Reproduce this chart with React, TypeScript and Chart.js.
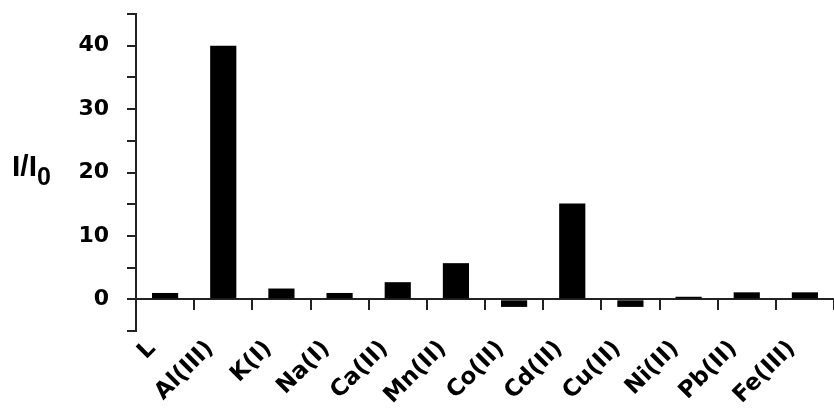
import React, { useEffect, useRef } from "react";
import { Chart, registerables } from "chart.js";

Chart.register(...registerables);

const categories = ["L", "Al(III)", "K(I)", "Na(I)", "Ca(II)", "Mn(II)", "Co(II)", "Cd(II)", "Cu(II)", "Ni(II)", "Pb(II)", "Fe(III)"];
const intensityRatio = [1.0, 40.0, 1.7, 1.0, 2.7, 5.7, -1.2, 15.1, -1.2, 0.4, 1.1, 1.1];
const yMin = -5;
const yMax = 45;
const yStep = 5;
const labelledTicks = [0, 10, 20, 30, 40];

const AXIS_COLOR = "#222";
const FONT_FAMILY = "'DejaVu Sans', 'Liberation Sans', sans-serif";

export default function App() {
  const canvasRef = useRef<HTMLCanvasElement | null>(null);

  useEffect(() => {
    const prevMargin = document.body.style.margin;
    document.body.style.margin = "0";
    const ctx = canvasRef.current;
    if (!ctx) return;
    const chart = new Chart(ctx, {
      type: "bar",
      data: {
        labels: categories,
        datasets: [
          {
            data: intensityRatio,
            backgroundColor: "#000",
            borderWidth: 0,
            categoryPercentage: 1,
            barPercentage: 0.45,
          },
        ],
      },
      options: {
        animation: false,
        responsive: true,
        maintainAspectRatio: false,
        layout: { padding: { top: 14, right: 0, bottom: 79, left: 0 } },
        plugins: {
          legend: { display: false },
          tooltip: { enabled: false },
          title: { display: false },
        },
        scales: {
          x: {
            type: "category",
            position: { y: 0 } as any,
            grid: {
              offset: true,
              drawOnChartArea: false,
              drawTicks: true,
              tickLength: 10,
              color: AXIS_COLOR,
              lineWidth: 2,
            },
            border: { display: true, color: AXIS_COLOR, width: 2 },
            ticks: {
              autoSkip: false,
              maxRotation: 45,
              minRotation: 45,
              padding: 26,
              labelOffset: -13,
              color: "#000",
              font: { family: FONT_FAMILY, size: 23, weight: "bold" },
            },
            afterFit: (s: any) => {
              s.paddingLeft = 0;
              s.paddingRight = 0;
            },
          },
          y: {
            type: "linear",
            min: yMin,
            max: yMax,
            grid: {
              drawOnChartArea: false,
              drawTicks: true,
              tickLength: 9,
              color: AXIS_COLOR,
              lineWidth: 2,
            },
            border: { display: true, color: AXIS_COLOR, width: 2 },
            ticks: {
              stepSize: yStep,
              padding: 18,
              color: "#000",
              font: { family: FONT_FAMILY, size: 22, weight: "bold" },
              callback: (v: any) => (labelledTicks.includes(Number(v)) ? String(v) : ""),
            },
            afterFit: (s: any) => {
              s.width = 136;
              s.paddingTop = 0;
              s.paddingBottom = 0;
            },
          },
        },
      },
    });
    return () => {
      chart.destroy();
      document.body.style.margin = prevMargin;
    };
  }, []);

  return (
    <div
      style={{
        position: "fixed",
        left: 0,
        top: 0,
        width: 834,
        height: 410,
        background: "#fff",
      }}
    >
      <canvas ref={canvasRef} />
      <div
        style={{
          position: "absolute",
          left: 12,
          top: 151,
          fontFamily: "'Liberation Sans', Arial, sans-serif",
          fontWeight: "bold",
          fontSize: 30,
          lineHeight: "30px",
          color: "#000",
          whiteSpace: "nowrap",
        }}
      >
        I/I<span style={{ fontSize: 25, position: "relative", top: 9 }}>0</span>
      </div>
    </div>
  );
}
